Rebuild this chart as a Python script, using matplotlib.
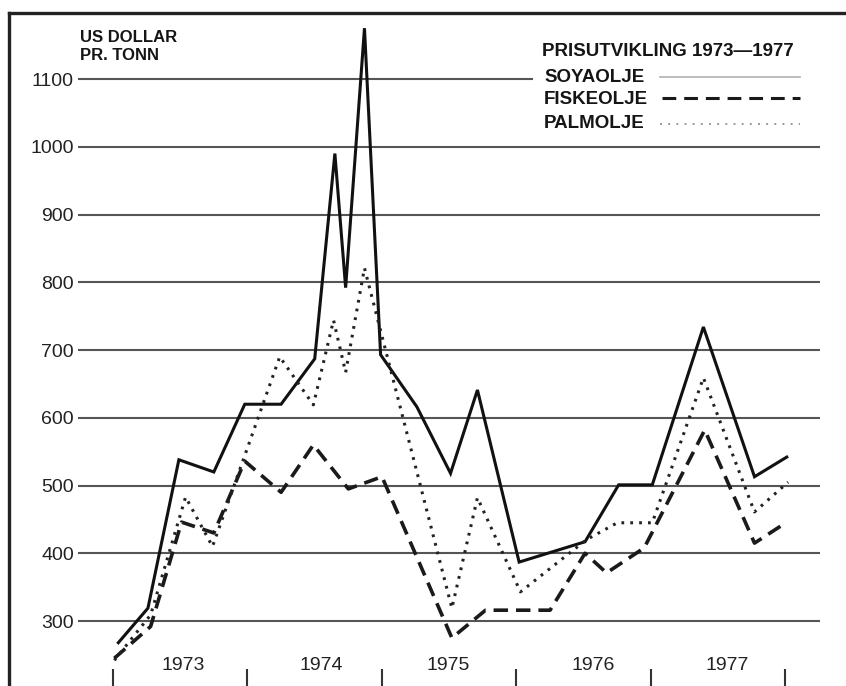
import matplotlib
matplotlib.use("Agg")
import matplotlib.pyplot as plt
from matplotlib.lines import Line2D

plt.rcParams['font.family'] = ['Liberation Sans', 'DejaVu Sans']

# price series, US dollar per tonn
soya_t = [1973.04, 1973.26, 1973.49, 1973.75, 1973.98, 1974.25, 1974.50, 1974.65,
          1974.73, 1974.87, 1974.99, 1975.26, 1975.51, 1975.71, 1976.02, 1976.51,
          1976.76, 1977.01, 1977.39, 1977.77, 1978.01]
soya = [268, 319, 538, 520, 620, 620, 687, 990, 792, 1175, 693, 616, 518, 641,
        387, 417, 501, 501, 734, 513, 542]

fisk_t = [1973.01, 1973.28, 1973.51, 1973.75, 1973.98, 1974.25, 1974.49, 1974.75,
          1975.00, 1975.52, 1975.77, 1976.25, 1976.51, 1976.67, 1976.95, 1977.40,
          1977.77, 1978.01]
fisk = [245, 292, 446, 430, 536, 490, 560, 495, 513, 275, 316, 316, 400, 371,
        408, 582, 415, 446]

palm_t = [1973.01, 1973.28, 1973.54, 1973.74, 1974.24, 1974.49, 1974.64, 1974.73,
          1974.87, 1975.52, 1975.71, 1976.03, 1976.52, 1976.75, 1977.01, 1977.39,
          1977.77, 1978.02]
palm = [242, 309, 483, 410, 690, 619, 744, 667, 821, 319, 482, 343, 420, 445,
        445, 659, 461, 505]

grid_vals = [300, 400, 500, 600, 700, 800, 900, 1000, 1100]
years = [1973, 1974, 1975, 1976, 1977]
year_label_x = [1973.52, 1974.55, 1975.49, 1976.57, 1977.57]
year_edges = [1973, 1974, 1975, 1976, 1977, 1978]

W, H = 846, 686
fig = plt.figure(figsize=(W / 100, H / 100), dpi=100)
fig.patch.set_facecolor('white')

# axes: from x=78 to x=820 px, from bottom of image up to y=12 px
ax = fig.add_axes([78 / W, 0, (820 - 78) / W, (H - 12) / H])
ax.set_xlim(1972.74, 1978.257)
ax.set_ylim(204.1, 1198.9)
for s in ax.spines.values():
    s.set_visible(False)

# horizontal rules; the top one stops before the legend
for v in grid_vals:
    if v == 1100:
        ax.axhline(v, xmin=0, xmax=(532 - 78) / (820 - 78), color='#555555', lw=1.5, zorder=1)
    else:
        ax.axhline(v, color='#555555', lw=1.5, zorder=1)

ax.plot(soya_t, soya, color='#111111', lw=2.2, solid_joinstyle='miter', zorder=3)
ax.plot(fisk_t, fisk, color='#1a1a1a', lw=2.6, linestyle=(0, (4.0, 2.2)), zorder=3)
ax.plot(palm_t, palm, color='#222222', lw=2.2, linestyle=(0, (0.9, 2.0)), zorder=3)

ax.set_yticks(grid_vals)
ax.set_yticklabels([str(v) for v in grid_vals], fontsize=14, color='#222222')
ax.tick_params(axis='y', length=0, pad=3)

ax.set_xticks(year_edges)
ax.set_xticklabels([])
ax.tick_params(axis='x', direction='in', length=12, width=1.5, color='#333333')

for x, yr in zip(year_label_x, years):
    ax.text(x, 235, str(yr), ha='center', va='center', fontsize=14, color='#222222')


def px(x, y):
    return x / W, 1 - y / H


# unit label
fig.text(*px(80, 38), 'US DOLLAR', fontsize=12, fontweight='bold', va='center', color='#151515')
fig.text(*px(80, 56), 'PR. TONN', fontsize=12, fontweight='bold', va='center', color='#151515')

# legend
fig.text(*px(542, 52), 'PRISUTVIKLING 1973\u20141977', fontsize=13.5, fontweight='bold',
         va='center', color='#151515')
fig.text(*px(544, 77), 'SOYAOLJE', fontsize=13.5, fontweight='bold', va='center', color='#151515')
fig.text(*px(544, 100), 'FISKEOLJE', fontsize=13.5, fontweight='bold', va='center', color='#151515')
fig.text(*px(544, 123), 'PALMOLJE', fontsize=13.5, fontweight='bold', va='center', color='#151515')

x0, y0 = px(660, 77)
x1, _ = px(800, 77)
fig.add_artist(Line2D([x0, x1], [y0, y0], color='#b0b0b0', lw=1.2, transform=fig.transFigure))
x0, y0 = px(662, 98)
x1, _ = px(800, 98)
fig.add_artist(Line2D([x0, x1], [y0, y0], color='#1a1a1a', lw=2.2,
                      linestyle=(0, (4.5, 2.6)), transform=fig.transFigure))
x0, y0 = px(660, 124)
x1, _ = px(800, 124)
fig.add_artist(Line2D([x0, x1], [y0, y0], color='#999999', lw=1.4,
                      linestyle=(0, (1, 3.2)), transform=fig.transFigure))

# frame of the scanned figure (top and left edges)
xa, ya = px(8.5, 13)
xb, yb = px(846, 686)
fig.add_artist(Line2D([xa, xb], [ya, ya], color='#222222', lw=2.4, transform=fig.transFigure))
fig.add_artist(Line2D([xa, xa], [ya, yb], color='#222222', lw=2.4, transform=fig.transFigure))

fig.savefig('out.png', dpi=100, facecolor='white')
